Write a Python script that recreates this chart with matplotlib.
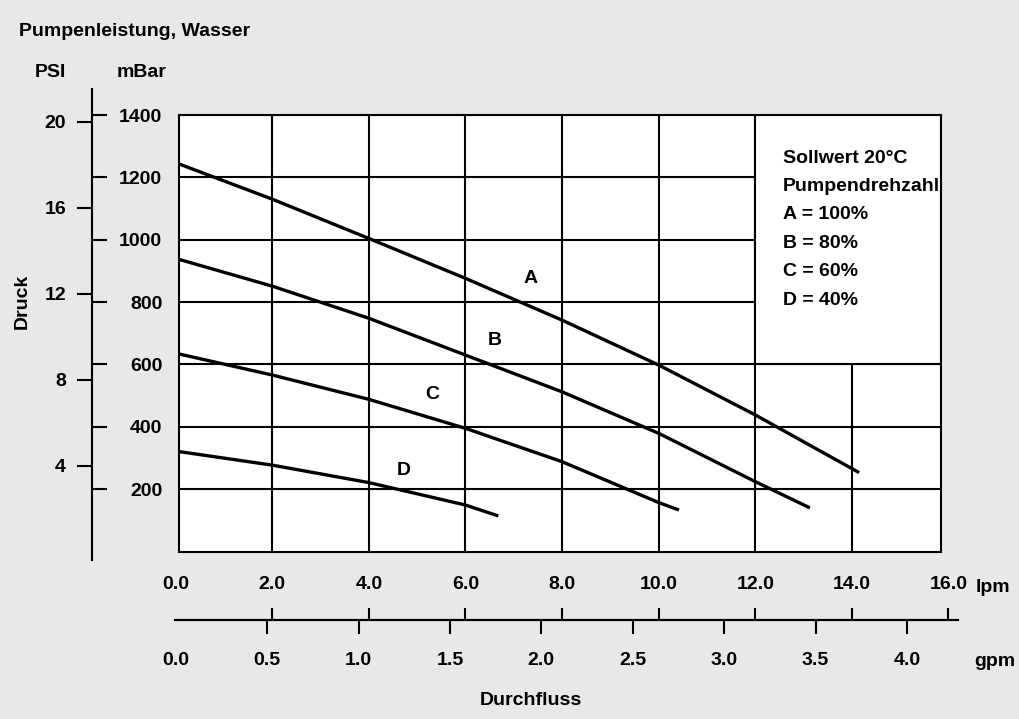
import matplotlib
matplotlib.use("Agg")
import matplotlib.pyplot as plt
from matplotlib.patches import Rectangle

plt.rcParams['font.family'] = ['Liberation Sans', 'DejaVu Sans']
plt.rcParams['font.weight'] = 'bold'
plt.rcParams['font.size'] = 14

# pump curves, flow in lpm, pressure in mBar
flow_a = [0.0, 2.0, 4.0, 6.0, 8.0, 10.0, 12.0, 14.15]
pres_a = [1247, 1130, 1004, 876, 742, 598, 438, 253]
flow_b = [0.0, 2.0, 4.0, 6.0, 8.0, 10.0, 12.0, 13.13]
pres_b = [940, 851, 748, 630, 512, 379, 224, 140]
flow_c = [0.0, 2.0, 4.0, 6.0, 8.0, 10.0, 10.42]
pres_c = [636, 566, 488, 395, 288, 157, 133]
flow_d = [0.0, 2.0, 4.0, 6.0, 6.68]
pres_d = [322, 277, 221, 149, 114]

curve_names = ['A', 'B', 'C', 'D']
name_pos = [(7.34, 877), (6.61, 678), (5.32, 502), (4.73, 261)]

mbar_ticks = [200, 400, 600, 800, 1000, 1200, 1400]
psi_ticks = [4, 8, 12, 16, 20]
lpm_ticks = [0, 2, 4, 6, 8, 10, 12, 14, 16]
gpm_ticks = [0, 0.5, 1.0, 1.5, 2.0, 2.5, 3.0, 3.5, 4.0]

legend_lines = ['Sollwert 20°C', 'Pumpendrehzahl', 'A = 100%', 'B = 80%', 'C = 60%', 'D = 40%']

MBAR_PER_PSI = 68.948
LPM_PER_GPM = 3.785

BG = '#e8e8e8'
W, H = 1020, 719
GRID_LW = 1.5


def box(x0, y0, x1, y1):
    # pixel box (top-left origin) -> figure fraction rect
    return [x0 / W, 1 - y1 / H, (x1 - x0) / W, (y1 - y0) / H]


def px2lpm(p):
    return (p - 175.7) / 48.3


def py2mbar(p):
    return (551.5 - p) / 0.3118


fig = plt.figure(figsize=(W / 100, H / 100), dpi=100, facecolor=BG)

# main chart
ax = fig.add_axes(box(179, 115, 941, 551.5))
ax.set_xlim(px2lpm(179), px2lpm(941))
ax.set_ylim(0, 1400)
ax.set_xticks(lpm_ticks[1:-1])
ax.set_yticks(mbar_ticks)
ax.set_yticklabels([str(v) for v in mbar_ticks])
ax.tick_params(axis='x', length=0, labelbottom=False)
ax.tick_params(axis='y', length=0, pad=12)
ax.grid(True, color='black', linewidth=GRID_LW)
ax.set_axisbelow(True)
for s in ax.spines.values():
    s.set_linewidth(GRID_LW)

# white legend box covering the grid
x_right = px2lpm(941)
ax.add_patch(Rectangle((12, 600), x_right - 12, 800, facecolor='white',
                       edgecolor='black', linewidth=GRID_LW, zorder=1))
for i, line in enumerate(legend_lines):
    ax.text(0.792, 0.891 - i * 0.0652, line, transform=ax.transAxes,
            ha='left', va='baseline', fontsize=14)

for fx, py in [(flow_a, pres_a), (flow_b, pres_b), (flow_c, pres_c), (flow_d, pres_d)]:
    ax.plot(fx, py, color='black', linewidth=2.4, zorder=3, solid_capstyle='butt')
for name, (x, y) in zip(curve_names, name_pos):
    ax.text(x, y, name, ha='center', va='center', fontsize=14, zorder=4)

# left scale: mBar ticks to the right, PSI to the left
axl = fig.add_axes(box(92, 89, 92.05, 560))
axl.patch.set_visible(False)
axl.set_ylim(py2mbar(560), py2mbar(89))
axl.set_xticks([])
for s in axl.spines.values():
    s.set_visible(False)
axl.yaxis.tick_right()
axl.set_yticks(mbar_ticks)
axl.tick_params(axis='y', direction='out', length=10.8, width=GRID_LW, labelright=False)
psi = axl.secondary_yaxis('left', functions=(lambda m: m / MBAR_PER_PSI, lambda p: p * MBAR_PER_PSI))
psi.set_yticks(psi_ticks)
psi.set_yticklabels([str(v) for v in psi_ticks])
psi.tick_params(direction='out', length=10.8, width=GRID_LW, pad=7.9)
psi.spines['left'].set_linewidth(GRID_LW)

# bottom scale: lpm ticks up, gpm ticks down
axb = fig.add_axes(box(175, 619.95, 958, 620))
axb.patch.set_visible(False)
axb.set_xlim(px2lpm(175), px2lpm(958))
axb.set_yticks([])
for k, s in axb.spines.items():
    s.set_visible(k == 'bottom')
    s.set_linewidth(GRID_LW)
axb.xaxis.tick_top()
axb.set_xticks(lpm_ticks)
axb.set_xticklabels(['%.1f' % v for v in lpm_ticks])
axb.tick_params(axis='x', direction='out', length=8.6, width=GRID_LW, pad=11)
axb.xaxis.get_major_ticks()[0].tick2line.set_visible(False)
gpm = axb.secondary_xaxis('bottom', functions=(lambda l: l / LPM_PER_GPM, lambda g: g * LPM_PER_GPM))
gpm.set_xticks(gpm_ticks)
gpm.set_xticklabels(['%.1f' % v for v in gpm_ticks])
gpm.tick_params(direction='out', length=10, width=GRID_LW, pad=13)
gpm.spines['bottom'].set_linewidth(GRID_LW)
gpm.xaxis.get_major_ticks()[0].tick1line.set_visible(False)

# titles and unit labels
fig.text(19 / W, 1 - 35.7 / H, 'Pumpenleistung, Wasser', ha='left', va='baseline')
fig.text(66.5 / W, 1 - 77.3 / H, 'PSI', ha='right', va='baseline')
fig.text(117 / W, 1 - 77.3 / H, 'mBar', ha='left', va='baseline')
fig.text(22 / W, 1 - 301 / H, 'Druck', rotation=90, ha='center', va='center')
fig.text(976 / W, 1 - 592 / H, 'lpm', ha='left', va='baseline')
fig.text(974 / W, 1 - 666 / H, 'gpm', ha='left', va='baseline')
fig.text(531 / W, 1 - 705 / H, 'Durchfluss', ha='center', va='baseline')

fig.savefig('out.png', dpi=100, facecolor=BG)
